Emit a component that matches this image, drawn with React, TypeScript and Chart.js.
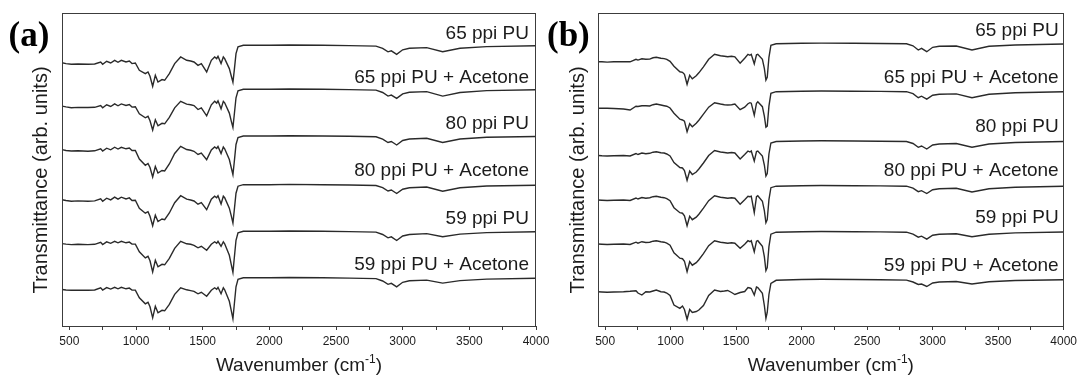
import React, { useEffect, useRef } from "react";
import { Chart, registerables } from "chart.js";

Chart.register(...registerables);

// ---------- data ----------
const WAVENUMBERS = [445, 475, 515, 565, 640, 690, 735, 750, 780, 810, 840, 865, 890, 925, 950, 970, 995, 1025, 1070, 1090, 1105, 1125, 1145, 1165, 1195, 1215, 1250, 1290, 1335, 1380, 1410, 1435, 1465, 1490, 1530, 1565, 1590, 1605, 1615, 1638, 1655, 1665, 1700, 1715, 1727, 1737, 1750, 1765, 1805, 2000, 2150, 2400, 2600, 2800, 2850, 2890, 2915, 2955, 3000, 3050, 3180, 3300, 3430, 3630, 4000];

const SERIES_NAMES = ["65 ppi PU", "65 ppi PU + Acetone", "80 ppi PU", "80 ppi PU + Acetone", "59 ppi PU", "59 ppi PU + Acetone"];

const X_MIN = 445;
const X_MAX = 4000;
const X_TICK_VALUES = [500, 750, 1000, 1250, 1500, 1750, 2000, 2250, 2500, 2750, 3000, 3250, 3500, 3750, 4000];
const X_TICK_LABELS = [500, 1000, 1500, 2000, 2500, 3000, 3500, 4000];
const Y_MIN = 0;
const Y_MAX = 313;

// panel (a) spectra, relative transmittance (arb. units)
const A_65_PU = [-17.5, -18.3, -19, -18.7, -19, -18.7, -16.7, -19, -16, -17.7, -15, -17, -15, -16.7, -15.7, -18.3, -17.7, -25, -28.3, -26.7, -31, -41, -30, -36.7, -34.3, -35, -28.3, -18.3, -11.7, -15, -15.7, -16.7, -20, -18.3, -26.7, -15, -11.7, -13.3, -11, -18.3, -11.7, -13.3, -23.3, -31, -37, -25, -8.3, -1.5, 0, 0, 0.3, 0, -0.3, -0.8, -3, -6.5, -5.5, -9, -4.5, -3, -2.3, -6.5, -3, -1.3, -0.5];
const A_65_PU_ACETONE = [-16.8, -17.6, -18.4, -18.1, -18.2, -18, -16.2, -18.4, -15.5, -17.2, -14.6, -16.5, -14.6, -16.2, -15.2, -17.8, -17.4, -24.5, -28.5, -27, -31.5, -40.7, -30.5, -36.5, -34, -34.5, -28, -18.5, -12, -14.8, -15.5, -16.3, -20.2, -18.5, -26.5, -15.5, -12, -13.8, -11.5, -19.5, -12, -13.5, -23.8, -32, -38, -25.5, -8.5, -1.5, 0, 0, 0.3, 0, -0.3, -0.8, -3.2, -6.8, -5.8, -9, -4.6, -3, -2.3, -6.8, -3.2, -1.3, -0.5];
const A_80_PU = [-13.6, -14.5, -15, -14.8, -15.2, -14.8, -12.8, -15, -12.2, -13.8, -11.2, -13, -11.3, -12.8, -12, -14.5, -14.5, -23, -29.3, -27.5, -31.5, -41, -30.5, -37, -34.5, -35, -28, -17.5, -10.3, -13.5, -14.3, -15.3, -18.5, -17, -23.6, -14, -11, -12.5, -10.5, -17.6, -11, -12.8, -23.5, -32, -38.6, -26, -8.5, -1.5, 0, 0, 0.3, 0, -0.3, -0.8, -3.2, -6.5, -5.5, -9, -4.5, -3, -2.3, -6.5, -3, -1.3, -0.5];
const A_80_PU_ACETONE = [-15, -15.8, -16.5, -16.2, -16.5, -16.2, -14.2, -16.5, -13.5, -15.2, -12.5, -14.5, -12.5, -14.2, -13.2, -15.8, -15.5, -23.5, -28.5, -27, -31.5, -41, -30.5, -36.8, -34.3, -35, -28.3, -18, -11, -14.5, -15.3, -16.3, -19.5, -18, -25, -14.5, -11.5, -13, -11, -19.3, -11.5, -13, -23.5, -31.5, -38.3, -25.5, -8.5, -1.5, 0, 0, 0.3, 0, -0.3, -0.8, -3, -6.3, -5.3, -8.8, -4.5, -3, -2.3, -6.5, -3, -1.3, -0.5];
const A_59_PU = [-12.3, -12.8, -13.3, -13, -13.3, -13, -11, -13.2, -10.5, -12, -10, -11.5, -10, -11.5, -10.8, -12.8, -12.8, -20.5, -26.6, -25, -29.5, -40.6, -29, -35.5, -33, -33.5, -27, -17, -10, -12.5, -13, -14, -16.5, -15, -19, -13, -10.5, -12, -10, -15, -10.5, -12.5, -24, -33.5, -41, -27, -9, -1.5, 0, 0, 0.3, 0, -0.3, -0.8, -3.2, -6.5, -5.5, -9.2, -4.7, -3.2, -2.3, -5.5, -2.8, -1.3, -0.5];
const A_59_PU_ACETONE = [-11.7, -12.2, -12.5, -12.3, -12.4, -12.2, -10, -12.2, -9.8, -11.3, -9.5, -11, -9.5, -11, -10.3, -12.2, -12.3, -20, -26, -24.5, -29, -40, -28.5, -35, -32.5, -33, -26.5, -16.5, -10, -12, -12.8, -13.5, -16, -14.5, -18.4, -12.5, -10, -11.5, -9.5, -16, -10, -12, -23.5, -33, -41, -27, -9, -1.5, 0, 0, 0.3, 0, -0.3, -0.8, -3.2, -6.5, -5.5, -9, -4.5, -3, -2.3, -5.3, -2.8, -1.3, -0.5];

// panel (b) spectra, relative transmittance (arb. units)
const B_65_PU = [-18.4, -18.5, -18.8, -18.5, -18.3, -18.5, -16, -16.8, -15.5, -16, -15.8, -14.5, -14, -15, -15.3, -16, -18, -23, -28.5, -29, -31, -41, -32, -35.5, -32.5, -29.5, -23.5, -16, -11, -12.5, -13, -13.5, -13, -13.5, -20, -15, -11, -12, -11, -20.5, -11.5, -11, -16, -25, -36.7, -34, -14, -2, -0.5, 0, 0.2, 0, -0.2, -0.5, -2.5, -6.7, -5, -8.4, -4, -3, -2.7, -6.7, -3, -1.7, -0.7];
const B_65_PU_ACETONE = [-17.1, -17.1, -17.1, -17.3, -17.8, -18.8, -15, -15.3, -14.5, -14.5, -14.8, -13.5, -12.8, -13.8, -14.5, -15, -16.8, -22, -28, -28.8, -30, -40.5, -32.5, -35.5, -32, -29, -23, -16, -11.5, -12.8, -13.5, -13.8, -13.5, -12.8, -18.5, -16, -12.5, -11.5, -12, -24, -12, -10.5, -15.5, -25, -36, -35, -15, -2.1, -0.5, 0, 0.2, 0, -0.2, -0.5, -2.5, -6.5, -5, -8, -4, -3, -2.7, -6.5, -3, -1.5, -0.5];
const B_80_PU = [-14.5, -14.8, -15, -14.8, -14.5, -15, -12.5, -13.5, -12, -12.8, -12.3, -11.2, -10.8, -11.8, -12, -13, -15, -21.5, -26.5, -27, -29.5, -39.3, -30, -33.5, -31, -28, -22, -14.5, -9.5, -11, -11.5, -12, -11.5, -12, -18, -13.5, -10, -11, -10, -20, -10.5, -10, -15, -24, -35, -32.5, -13, -2, -0.5, 0, 0.2, 0, -0.2, -0.5, -2.5, -6.3, -5, -8, -4, -3, -2.5, -6.3, -3, -1.5, -0.5];
const B_80_PU_ACETONE = [-14.3, -14.5, -14.8, -14.5, -14.3, -14.8, -12.3, -13.3, -11.8, -12.5, -12, -11, -10.5, -11.5, -12, -13, -15, -22, -27, -27.5, -30, -40, -30.5, -34, -31.5, -28.5, -22.5, -15, -10, -11.5, -12, -12.5, -12, -12.5, -18.5, -14, -10.5, -11, -10.5, -27, -11, -10, -15.5, -25, -37, -34, -14, -2, -0.5, 0, 0.2, 0, -0.2, -0.5, -2.5, -6, -5, -7.8, -4, -3, -2.5, -6.3, -3, -1.5, -0.5];
const B_59_PU = [-12.3, -12.5, -12.8, -12.5, -12.3, -12.8, -10.5, -11.5, -10, -10.8, -10.5, -9.5, -9, -10, -10.5, -11.5, -13.5, -21, -26.5, -27, -29.5, -40, -30, -33.5, -31, -28, -22, -14, -9, -10.5, -11, -11.5, -11, -11.5, -16.5, -12.5, -9, -10, -9, -20, -9.5, -9, -14.5, -25, -39, -36, -15, -2.5, -0.5, 0, 0.2, 0, -0.2, -0.5, -2.5, -5.5, -4.5, -7.5, -3.5, -2.5, -2, -5, -2.5, -1.2, -0.3];
const B_59_PU_ACETONE = [-12.2, -12.5, -12.8, -12.5, -12.2, -11.8, -11.2, -13.5, -15.5, -12.2, -12.5, -11.5, -10.5, -12.2, -12.5, -13.5, -16, -25.5, -28.8, -26.5, -30, -39.8, -30, -33, -32, -30.5, -26, -16, -10.5, -12, -11.5, -11, -13, -15, -13, -12, -8, -8.5, -9, -15.5, -7.5, -8, -13.8, -26, -38.8, -33, -15, -4, -0.8, 0, 0.2, 0, -0.2, -0.6, -2.5, -5, -4.5, -7, -3.5, -2.5, -2, -4.5, -2.3, -1, -0.3];

// vertical stacking offsets (arb. units) and label heights
const STACK_OFFSET_A = [280.7, 236.7, 190, 141.3, 94.7, 48.2];
const STACK_OFFSET_B = [282.7, 234.8, 185, 140.3, 94.3, 46.5];
const LABEL_Y_A = [292.7, 248.7, 202.7, 155.3, 107.7, 61];
const LABEL_Y_B = [295, 248.7, 199.3, 155.3, 108.7, 60.3];

const SERIES_A = [A_65_PU, A_65_PU_ACETONE, A_80_PU, A_80_PU_ACETONE, A_59_PU, A_59_PU_ACETONE];
const SERIES_B = [B_65_PU, B_65_PU_ACETONE, B_80_PU, B_80_PU_ACETONE, B_59_PU, B_59_PU_ACETONE];

// ---------- style ----------
const SANS = '"Liberation Sans", Arial, Helvetica, sans-serif';
const SERIF = '"Liberation Serif", "Times New Roman", serif';
const LINE = "#2a2a2a";
const FRAME = "#3c3c3c";
const TEXT = "#1c1c1c";

type PanelProps = {
  letter: string;
  series: number[][];
  offsets: number[];
  labelY: number[];
  left: number;
  width: number;
  padLeft: number;
  padRight: number;
  labelInset: number;
  yTitleX: number;
  letterX: number;
};

function Panel(p: PanelProps) {
  const ref = useRef<HTMLCanvasElement | null>(null);

  useEffect(() => {
    const canvas = ref.current;
    if (!canvas) return;

    const decor = {
      id: "decor",
      afterDraw(chart: any) {
        const { ctx, chartArea: a, scales } = chart;
        const ys = scales.y;
        ctx.save();
        // frame
        ctx.strokeStyle = FRAME;
        ctx.lineWidth = 1;
        ctx.strokeRect(Math.round(a.left) + 0.5, Math.round(a.top) + 0.5, Math.round(a.right - a.left) - 1, Math.round(a.bottom - a.top));

        // panel letter
        ctx.fillStyle = "#000";
        ctx.font = `bold 35px ${SERIF}`;
        ctx.textAlign = "left";
        ctx.textBaseline = "alphabetic";
        ctx.fillText(p.letter, p.letterX, 46);

        // series labels
        ctx.fillStyle = TEXT;
        ctx.font = `19px ${SANS}`;
        ctx.textAlign = "right";
        ctx.textBaseline = "middle";
        SERIES_NAMES.forEach((name, i) => {
          ctx.fillText(name, a.right - p.labelInset, ys.getPixelForValue(p.labelY[i]));
        });

        // y title
        ctx.save();
        ctx.translate(p.yTitleX, 180);
        ctx.rotate(-Math.PI / 2);
        ctx.textAlign = "center";
        ctx.textBaseline = "middle";
        ctx.font = `20px ${SANS}`;
        ctx.fillText("Transmittance (arb. units)", 0, 0);
        ctx.restore();

        // x title with superscript
        const main = "Wavenumber (cm";
        const sup = "-1";
        const close = ")";
        ctx.textAlign = "left";
        ctx.textBaseline = "alphabetic";
        ctx.font = `19px ${SANS}`;
        const w1 = ctx.measureText(main).width;
        const w3 = ctx.measureText(close).width;
        ctx.font = `12px ${SANS}`;
        const w2 = ctx.measureText(sup).width;
        const total = w1 + w2 + w3;
        let x = (a.left + a.right) / 2 - total / 2;
        const base = 370.5;
        ctx.font = `19px ${SANS}`;
        ctx.fillText(main, x, base);
        x += w1;
        ctx.font = `12px ${SANS}`;
        ctx.fillText(sup, x, base - 8);
        x += w2;
        ctx.font = `19px ${SANS}`;
        ctx.fillText(close, x, base);
        ctx.restore();
      },
    };

    const chart = new Chart(canvas, {
      type: "line",
      data: {
        datasets: p.series.map((vals, k) => ({
          label: SERIES_NAMES[k],
          data: WAVENUMBERS.map((x, i) => ({ x, y: p.offsets[k] + vals[i] })),
          borderColor: LINE,
          borderWidth: 1.4,
          pointRadius: 0,
          tension: 0,
          fill: false,
        })),
      },
      options: {
        responsive: false,
        animation: false,
        devicePixelRatio: 1,
        layout: { padding: { left: p.padLeft, right: p.padRight, top: 13, bottom: 0 } },
        plugins: { legend: { display: false }, tooltip: { enabled: false } },
        scales: {
          x: {
            type: "linear",
            min: X_MIN,
            max: X_MAX,
            afterBuildTicks: (s: any) => {
              s.ticks = X_TICK_VALUES.map((v) => ({ value: v }));
            },
            afterFit: (s: any) => {
              s.height = 53;
            },
            ticks: {
              autoSkip: false,
              maxRotation: 0,
              minRotation: 0,
              padding: 4,
              color: TEXT,
              font: { family: SANS, size: 12 },
              callback: (v: any) => (X_TICK_LABELS.includes(Number(v)) ? String(v) : ""),
            },
            grid: { display: true, drawOnChartArea: false, drawTicks: true, tickLength: 4, color: FRAME, lineWidth: 1 },
            border: { display: false },
          },
          y: { type: "linear", min: Y_MIN, max: Y_MAX, display: false },
        },
      } as any,
      plugins: [decor],
    });
    return () => chart.destroy();
  }, []);

  return (
    <canvas
      ref={ref}
      width={p.width}
      height={379}
      style={{ position: "absolute", left: p.left, top: 0, width: p.width, height: 379 }}
    />
  );
}

export default function App() {
  return (
    <div style={{ position: "fixed", left: 0, top: 0, width: 1081, height: 379, background: "#fff", overflow: "hidden" }}>
      <Panel letter="(a)" series={SERIES_A} offsets={STACK_OFFSET_A} labelY={LABEL_Y_A} left={0} width={560} padLeft={62} padRight={24} labelInset={7} yTitleX={41} letterX={8.5} />
      <Panel letter="(b)" series={SERIES_B} offsets={STACK_OFFSET_B} labelY={LABEL_Y_B} left={540} width={541} padLeft={58} padRight={15} labelInset={5} yTitleX={38.5} letterX={7} />
    </div>
  );
}
